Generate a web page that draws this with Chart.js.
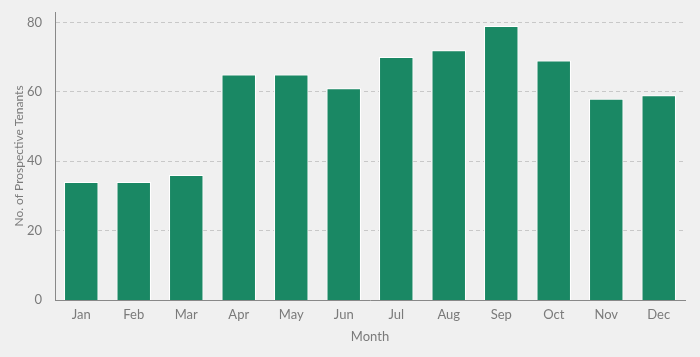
<!DOCTYPE html>
<html>
<head>
<meta charset="utf-8">
<script src="https://cdn.jsdelivr.net/npm/chart.js@4"></script>
<style>
html,body{margin:0;padding:0;background:#f0f0f0;}
#wrap{width:700px;height:357px;position:relative;}
</style>
</head>
<body>
<div id="wrap"><canvas id="c" width="700" height="357"></canvas></div>
<script>
const months = ["Jan","Feb","Mar","Apr","May","Jun","Jul","Aug","Sep","Oct","Nov","Dec"];
const tenants = [34,34,36,65,65,61,70,72,79,69,58,59];
const yTicks = [0,20,40,60,80];

Chart.defaults.font.family = "Lato";
Chart.defaults.font.size = 13;
Chart.defaults.color = "#7a7a7a";

new Chart(document.getElementById("c"), {
  type: "bar",
  data: {
    labels: months,
    datasets: [{
      data: tenants,
      backgroundColor: "#1a8864",
      borderColor: "#ffffff",
      borderWidth: 1,
      categoryPercentage: 0.8,
      barPercentage: 0.82
    }]
  },
  options: {
    responsive: false,
    animation: false,
    layout: { padding: { top: 12, right: 15, left: 12, bottom: 12 } },
    plugins: { legend: { display: false }, tooltip: { enabled: false } },
    scales: {
      x: {
        afterFit: (axis) => { axis.height = 45; axis.paddingLeft = 0; axis.paddingRight = 0; },
        grid: { display: false, drawTicks: false },
        border: { color: "#888888", width: 1 },
        ticks: { padding: 7, color: "#7a7a7a", font: { size: 13 } },
        title: { display: true, text: "Month", color: "#7a7a7a", font: { size: 13 }, padding: { top: 6, bottom: 0 } }
      },
      y: {
        min: 0,
        max: 83,
        afterFit: (axis) => { axis.width = 43; axis.paddingTop = 0; axis.paddingBottom = 0; },
        afterBuildTicks: (axis) => { axis.ticks = yTicks.map(v => ({ value: v })); },
        grid: { color: "#c8c8c8", drawTicks: false, lineWidth: (ctx) => ctx.tick && ctx.tick.value === 0 ? 0 : 1 },
        border: { color: "#888888", width: 1, dash: [4, 3], display: true },
        ticks: { padding: 13, color: "#7a7a7a", font: { size: 13 } },
        title: { display: true, text: "No. of Prospective Tenants", color: "#7a7a7a", font: { size: 12 }, padding: { top: 0, bottom: 3 } }
      }
    }
  }
});
</script>
</body>
</html>
